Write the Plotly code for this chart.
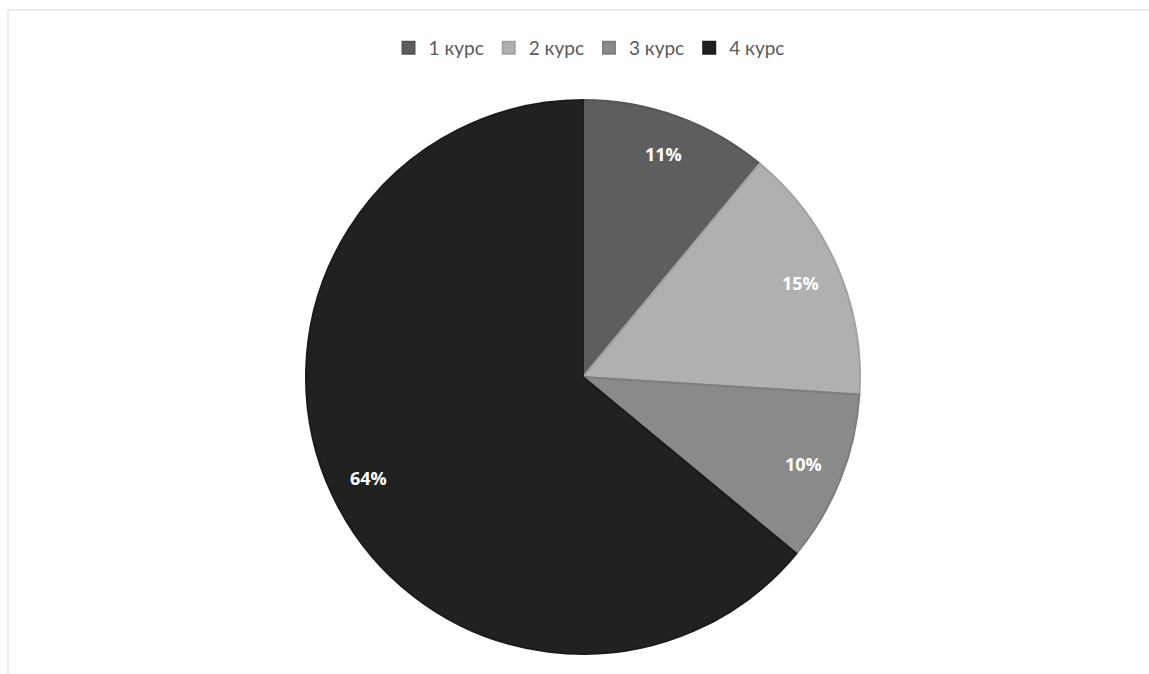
import math
import plotly.graph_objects as go

labels = ["1 курс", "2 курс", "3 курс", "4 курс"]
values = [11, 15, 10, 64]
text_labels = ["11%", "15%", "10%", "64%"]
colors = ["#5e5e5e", "#b0b0b0", "#8a8a8a", "#212121"]
edge_colors = ["#555555", "#a2a2a2", "#7e7e7e", "#1b1b1b"]

W, H = 1149, 674
cx, cy, R = 583, 377, 277

fig = go.Figure()
fig.add_trace(go.Pie(
    labels=labels,
    values=values,
    textinfo="none",
    sort=False,
    direction="clockwise",
    rotation=0,
    marker=dict(colors=colors, line=dict(color=edge_colors, width=2)),
    domain=dict(x=[(cx - R) / W, (cx + R) / W], y=[1 - (cy + R) / H, 1 - (cy - R) / H]),
    hoverinfo="label+percent",
))

# data labels placed at the mid-angle of each slice (derived from values)
total = sum(values)
cum = 0.0
annotations = []
for v, t in zip(values, text_labels):
    mid = (cum + v / 2) / total * 2 * math.pi
    cum += v
    r = 0.855 * R
    px = cx + r * math.sin(mid)
    py = cy - r * math.cos(mid)
    annotations.append(dict(
        x=px / W, y=1 - py / H, xref="paper", yref="paper",
        text=t, showarrow=False, xanchor="center", yanchor="middle",
        font=dict(family="Open Sans, Lato, sans-serif", size=18, color="#ffffff", weight="bold"),
    ))

fig.update_layout(
    width=W, height=H,
    margin=dict(l=0, r=0, t=0, b=0),
    paper_bgcolor="white",
    plot_bgcolor="white",
    showlegend=True,
    legend=dict(
        orientation="h",
        x=589 / W, xanchor="center",
        y=1 - 48 / H, yanchor="middle",
        font=dict(family="Lato, Open Sans, sans-serif", size=19, color="#595959"),
        itemwidth=30,
        traceorder="normal",
    ),
    annotations=annotations,
    shapes=[
        dict(type="line", xref="paper", yref="paper",
             x0=8 / W, x1=1.0, y0=1 - 10 / H, y1=1 - 10 / H,
             line=dict(color="#d9d9d9", width=1)),
        dict(type="line", xref="paper", yref="paper",
             x0=8 / W, x1=8 / W, y0=1 - 10 / H, y1=0,
             line=dict(color="#d9d9d9", width=1)),
    ],
)

fig.write_html("out.html")
